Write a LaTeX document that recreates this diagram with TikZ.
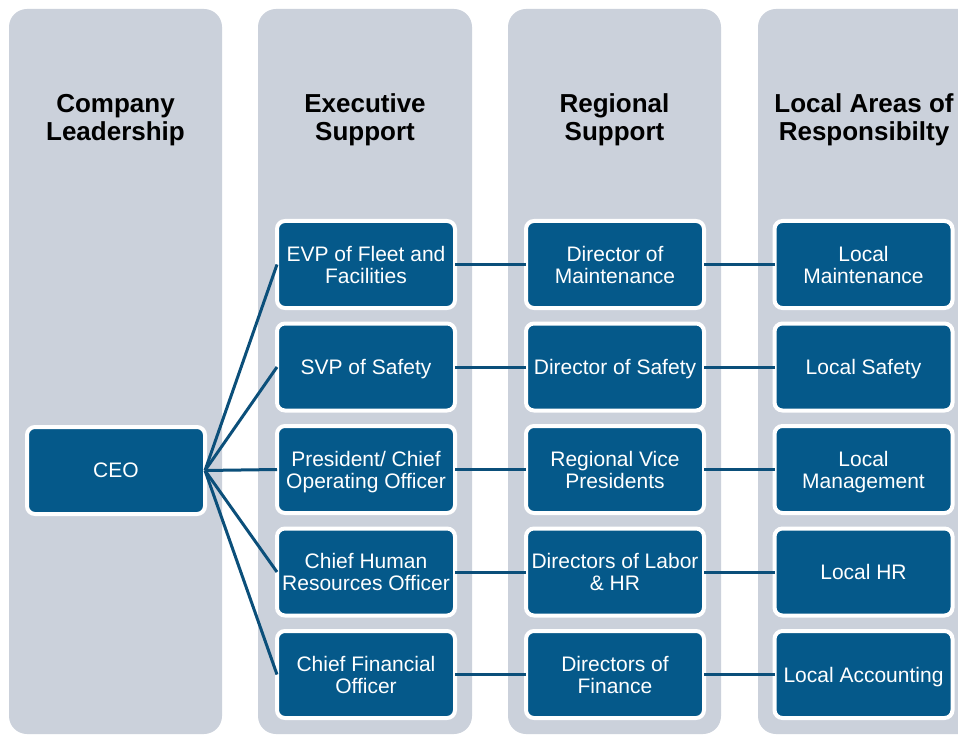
\documentclass[tikz,border=0pt]{standalone}
\usepackage{fontspec}
\setmainfont{Liberation Sans}
\definecolor{colgray}{HTML}{CBD1DB}
\definecolor{boxblue}{HTML}{05598A}
\definecolor{lineblue}{HTML}{0B4F7A}
\newcommand{\nodepth}[1]{\raisebox{0pt}[\height][0pt]{#1}}
\tikzset{
  column/.style={fill=colgray, draw=none, rounded corners=18pt},
  heading/.style={align=center, font=\fontsize{26}{28}\selectfont\bfseries, text=black, inner sep=0pt},
  rolebox/.style={rectangle, rounded corners=8pt, fill=boxblue, draw=white, line width=4pt,
    minimum width=178pt, minimum height=87pt, inner sep=0pt, align=center,
    text=white, font=\fontsize{21}{22}\selectfont},
  link/.style={draw=lineblue, line width=3pt}
}
\begin{document}
\begin{tikzpicture}[x=1pt,y=-1pt]
\useasboundingbox (0,0) rectangle (958,735);
\clip (0,0) rectangle (958,735);
% columns
\fill[column] (9,9) rectangle (222,734);
\fill[column] (258,9) rectangle (472,734);
\fill[column] (508,9) rectangle (721,734);
\fill[column] (758,9) rectangle (990,734);
% headings
\node[heading] (h1) at (115.5,120) {Company\\Leadership};
\node[heading] (h2) at (365,120) {Executive\\Support};
\node[heading] (h3) at (614.5,120) {Regional\\Support};
\node[heading] (h4) at (864,120) {Local Areas of\\Responsibilty};
% boxes
\node[rolebox] (ceo) at (116,470.5) {\nodepth{CEO}};
\node[rolebox] (e1) at (366,264.5) {EVP of Fleet and\\\nodepth{Facilities}};
\node[rolebox] (e2) at (366,367) {\nodepth{SVP of Safety}};
\node[rolebox] (e3) at (366,469.5) {President/ Chief\\\nodepth{Operating Officer}};
\node[rolebox] (e4) at (366,572) {Chief Human\\\nodepth{Resources Officer}};
\node[rolebox] (e5) at (366,674.5) {Chief Financial\\\nodepth{Officer}};
\node[rolebox] (r1) at (615,264.5) {Director of\\\nodepth{Maintenance}};
\node[rolebox] (r2) at (615,367) {\nodepth{Director of Safety}};
\node[rolebox] (r3) at (615,469.5) {Regional Vice\\\nodepth{Presidents}};
\node[rolebox] (r4) at (615,572) {Directors of Labor\\\nodepth{\& HR}};
\node[rolebox] (r5) at (615,674.5) {Directors of\\\nodepth{Finance}};
\node[rolebox] (l1) at (863.5,264.5) {Local\\\nodepth{Maintenance}};
\node[rolebox] (l2) at (863.5,367) {\nodepth{Local Safety}};
\node[rolebox] (l3) at (863.5,469.5) {Local\\\nodepth{Management}};
\node[rolebox] (l4) at (863.5,572) {\nodepth{Local HR}};
\node[rolebox] (l5) at (863.5,674.5) {\nodepth{Local Accounting}};
% connectors
\foreach \i in {1,...,5} {
  \draw[link] ([xshift=-2pt]ceo.east) -- ([xshift=2pt]e\i.west);
  \draw[link] ([xshift=-2pt]e\i.east) -- ([xshift=2pt]r\i.west);
  \draw[link] ([xshift=-2pt]r\i.east) -- ([xshift=2pt]l\i.west);
}
\end{tikzpicture}
\end{document}
